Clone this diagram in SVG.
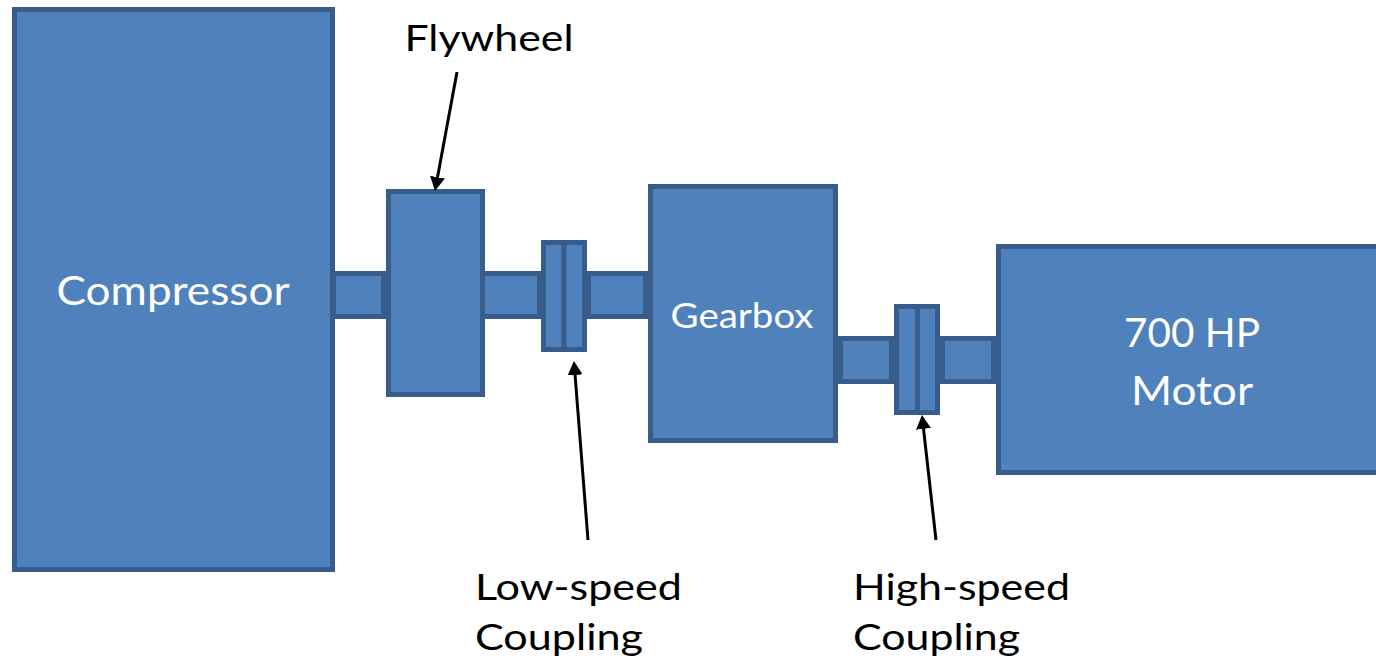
<svg xmlns="http://www.w3.org/2000/svg" width="1376" height="666" viewBox="0 0 1376 666">
  <style>
    .part { fill: #4F81BD; stroke: #385D8A; stroke-width: 5; }
    .inlabel { font-family: Lato, "Open Sans", sans-serif; fill: #FFFFFF; text-anchor: middle; }
    .callout { font-family: Lato, "Open Sans", sans-serif; fill: #000000; font-size: 36px; }
    .leader { stroke: #000000; stroke-width: 3; fill: none; marker-end: url(#head); }
  </style>
  <defs>
    <marker id="head" markerUnits="userSpaceOnUse" markerWidth="14" markerHeight="15" viewBox="0 0 14 15" refX="11" refY="7.5" orient="auto">
      <path d="M0,0 L14,7.5 L0,15 z" fill="#000000"/>
    </marker>
  </defs>
  <rect width="1376" height="666" fill="#FFFFFF"/>

  <!-- shafts between the machines -->
  <g id="shafts">
    <rect class="part" x="333.5" y="273.5" width="50" height="43"/>
    <rect class="part" x="482.5" y="273.5" width="57" height="43"/>
    <rect class="part" x="588.5" y="273.5" width="57" height="43"/>
    <rect class="part" x="840.5" y="338.5" width="51" height="43"/>
    <rect class="part" x="942.5" y="338.5" width="51" height="43"/>
  </g>

  <g id="compressor">
    <rect class="part" x="14.5" y="9.5" width="318" height="560"/>
    <text class="inlabel" x="173" y="305" font-size="40" textLength="233" lengthAdjust="spacingAndGlyphs">Compressor</text>
  </g>

  <g id="flywheel">
    <rect class="part" x="388.5" y="191.5" width="94" height="203"/>
  </g>

  <g id="low-speed-coupling">
    <rect class="part" x="543.5" y="242.5" width="20.5" height="107"/>
    <rect class="part" x="564" y="242.5" width="20.5" height="107"/>
  </g>

  <g id="gearbox">
    <rect class="part" x="650.5" y="186.5" width="185" height="254"/>
    <text class="inlabel" x="742" y="328" font-size="35" textLength="143" lengthAdjust="spacingAndGlyphs">Gearbox</text>
  </g>

  <g id="high-speed-coupling">
    <rect class="part" x="896.5" y="306.5" width="21" height="106"/>
    <rect class="part" x="917.5" y="306.5" width="20" height="106"/>
  </g>

  <g id="motor">
    <rect class="part" x="998.5" y="246.5" width="400" height="226"/>
    <text class="inlabel" x="1192" y="347" font-size="41" textLength="136" lengthAdjust="spacingAndGlyphs">700 HP</text>
    <text class="inlabel" x="1192" y="405" font-size="41" textLength="122" lengthAdjust="spacingAndGlyphs">Motor</text>
  </g>

  <!-- callout labels -->
  <g id="labels">
    <text class="callout" x="489" y="51" text-anchor="middle" textLength="169" lengthAdjust="spacingAndGlyphs">Flywheel</text>
    <text class="callout" x="475" y="600" textLength="207" lengthAdjust="spacingAndGlyphs">Low-speed</text>
    <text class="callout" x="475" y="650" textLength="168" lengthAdjust="spacingAndGlyphs">Coupling</text>
    <text class="callout" x="853" y="600" textLength="217" lengthAdjust="spacingAndGlyphs">High-speed</text>
    <text class="callout" x="853" y="650" textLength="167" lengthAdjust="spacingAndGlyphs">Coupling</text>
  </g>

  <!-- leader arrows -->
  <g id="connectors">
    <line class="leader" x1="457" y1="72" x2="435.5" y2="188"/>
    <line class="leader" x1="588" y1="540" x2="574.2" y2="364"/>
    <line class="leader" x1="936" y1="540" x2="922.3" y2="418"/>
  </g>
</svg>
